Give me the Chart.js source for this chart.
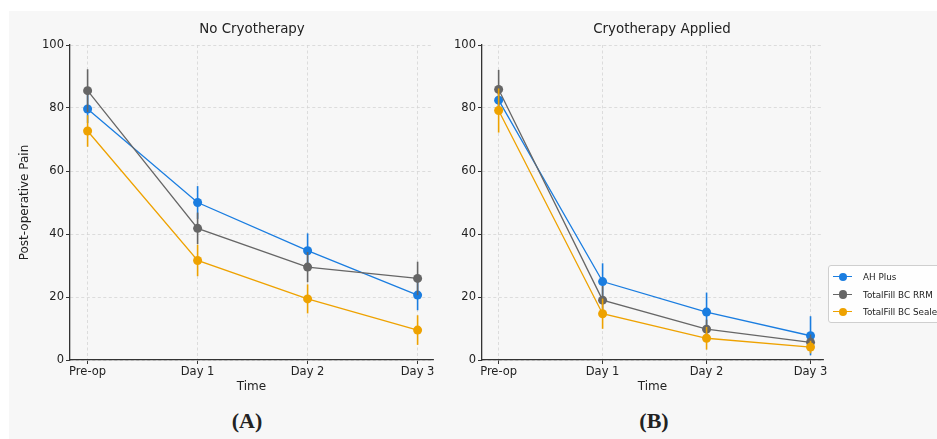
<!DOCTYPE html>
<html>
<head>
<meta charset="utf-8">
<script src="https://cdn.jsdelivr.net/npm/chart.js@4.4.0/dist/chart.umd.min.js"></script>
<style>
  html, body { margin: 0; padding: 0; width: 937px; height: 439px; overflow: hidden; background: #fff; }
  body { position: relative; font-family: "DejaVu Sans", sans-serif; color: #222; }
  #bg { position: absolute; left: 9px; top: 11px; right: 0; bottom: 0; background: #f7f7f7; }
  .box { position: absolute; top: 0; height: 400px; }
  .title { position: absolute; font-size: 13.4px; transform: translateX(-50%); white-space: nowrap; top: 21px; }
  .panel { position: absolute; font-family: "Liberation Serif", serif; font-weight: bold; font-size: 22px; transform: translateX(-50%); top: 408px; }
  #legend { position: absolute; left: 828px; top: 265px; width: 130px; height: 56px; border: 1px solid #cfcfcf; border-radius: 3px; background: rgba(255,255,255,0.85); font-size: 8.8px; }
  .item { position: absolute; left: 4px; height: 12px; white-space: nowrap; }
  .item .ln { position: absolute; left: 0; top: 5px; width: 19px; height: 1.4px; }
  .item .dot { position: absolute; left: 5.5px; top: 1.5px; width: 8.5px; height: 8.5px; border-radius: 50%; }
  .item span.t { position: absolute; left: 30px; top: 0; line-height: 12px; }
</style>
</head>
<body>
<div id="bg"></div>
<div class="box" style="left:0;width:440px"><canvas id="left"></canvas></div>
<div class="box" style="left:440px;width:497px"><canvas id="right"></canvas></div>
<div class="title" style="left:252px">No Cryotherapy</div>
<div class="title" style="left:662px">Cryotherapy Applied</div>
<div class="panel" style="left:247px">(A)</div>
<div class="panel" style="left:654px">(B)</div>
<div id="legend"></div>
<script>
// categories and series
const timeLabels = ['Pre-op', 'Day 1', 'Day 2', 'Day 3'];
const seriesNames = ['AH Plus', 'TotalFill BC RRM', 'TotalFill BC Sealer'];
const seriesColors = ['#1a7de0', '#666666', '#eea200'];

const noCryoAH = [79.7, 50.0, 34.7, 20.6];
const noCryoRRM = [85.5, 41.8, 29.5, 25.9];
const noCryoSealer = [72.7, 31.6, 19.4, 9.5];
const noCryoAHsd = [4.5, 5.2, 5.5, 4.8];
const noCryoRRMsd = [6.8, 5.0, 4.8, 5.3];
const noCryoSealerSd = [5.0, 5.0, 4.6, 4.7];

const cryoAH = [82.5, 24.9, 15.2, 7.7];
const cryoRRM = [85.9, 19.0, 9.8, 5.6];
const cryoSealer = [79.2, 14.7, 6.9, 4.1];
const cryoAHsd = [4.0, 5.8, 6.2, 6.2];
const cryoRRMsd = [6.2, 4.5, 3.0, 2.5];
const cryoSealerSd = [7.0, 4.8, 3.6, 2.0];

const yTicks = [0, 20, 40, 60, 80, 100];

const errorBars = {
    id: 'errorBars',
    beforeDatasetDraw(chart, args) {
        const ds = chart.data.datasets[args.index];
        if (!ds.sd) return;
        const x = chart.scales.x, y = chart.scales.y;
        const ctx = chart.ctx;
        ctx.save();
        ctx.strokeStyle = ds.borderColor;
        ctx.lineWidth = 1.6;
        ds.data.forEach((p, i) => {
            const px = x.getPixelForValue(p.x);
            ctx.beginPath();
            ctx.moveTo(px, y.getPixelForValue(p.y - ds.sd[i]));
            ctx.lineTo(px, y.getPixelForValue(p.y + ds.sd[i]));
            ctx.stroke();
        });
        ctx.restore();
    }
};

function toPoints(values) {
    return values.map((v, i) => ({ x: i, y: v }));
}

function makeDatasets(series, sds) {
    return series.map((vals, k) => ({
        label: seriesNames[k],
        data: toPoints(vals),
        sd: sds[k],
        borderColor: seriesColors[k],
        backgroundColor: seriesColors[k],
        borderWidth: 1.3,
        pointRadius: 4.5,
        pointBorderWidth: 0,
        pointHoverRadius: 4.5,
        tension: 0,
        order: series.length - 1 - k
    }));
}

const tickFont = { family: 'DejaVu Sans', size: 11.5 };
const gridColor = '#d4d4d4';

function makeChart(id, series, sds, opts) {
    new Chart(document.getElementById(id), {
        type: 'line',
        data: { datasets: makeDatasets(series, sds) },
        options: {
            responsive: true,
            maintainAspectRatio: false,
            animation: false,
            events: [],
            layout: { padding: { top: 45, left: 0, right: opts.rightPad, bottom: 0 } },
            plugins: { legend: { display: false }, tooltip: { enabled: false } },
            scales: {
                x: {
                    type: 'linear',
                    min: -0.16,
                    max: opts.xMax,
                    afterBuildTicks: s => { s.ticks = timeLabels.map((_, i) => ({ value: i })); },
                    afterFit: s => { s.height = 40; },
                    ticks: {
                        color: '#222',
                        font: tickFont,
                        padding: 1,
                        maxRotation: 0,
                        autoSkip: false,
                        callback: v => timeLabels[v]
                    },
                    grid: { color: gridColor, lineWidth: 0.8, tickColor: '#333', tickLength: 4, tickWidth: 1 },
                    border: { color: '#333', width: 1.3, dash: [3, 2.5] },
                    title: { display: true, text: 'Time', color: '#222', font: { family: 'DejaVu Sans', size: 12 }, padding: { top: 0, bottom: 6 } }
                },
                y: {
                    min: 0,
                    max: 100,
                    afterBuildTicks: s => { s.ticks = yTicks.map(v => ({ value: v })); },
                    afterFit: s => { s.width = opts.yWidth; },
                    ticks: { color: '#222', font: tickFont, padding: 2 },
                    grid: { color: gridColor, lineWidth: 0.8, tickColor: '#333', tickLength: 4, tickWidth: 1 },
                    border: { color: '#333', width: 1.3, dash: [3, 2.5] },
                    title: { display: opts.yTitle, text: 'Post-operative Pain', color: '#222', font: { family: 'DejaVu Sans', size: 12 }, padding: { top: 18, bottom: 0 } }
                }
            }
        },
        plugins: [errorBars]
    });
}

makeChart('left', [noCryoAH, noCryoRRM, noCryoSealer], [noCryoAHsd, noCryoRRMsd, noCryoSealerSd],
    { yWidth: 70, rightPad: 7, xMax: 3.14, yTitle: true });
makeChart('right', [cryoAH, cryoRRM, cryoSealer], [cryoAHsd, cryoRRMsd, cryoSealerSd],
    { yWidth: 42, rightPad: 114, xMax: 3.12, yTitle: false });

// legend
const legend = document.getElementById('legend');
seriesNames.forEach((name, k) => {
    const it = document.createElement('div');
    it.className = 'item';
    it.style.top = (5 + k * 17.5) + 'px';
    it.innerHTML = '<div class="ln" style="background:' + seriesColors[k] + '"></div>' +
        '<div class="dot" style="background:' + seriesColors[k] + '"></div>' +
        '<span class="t">' + name + '</span>';
    legend.appendChild(it);
});
</script>
</body>
</html>
